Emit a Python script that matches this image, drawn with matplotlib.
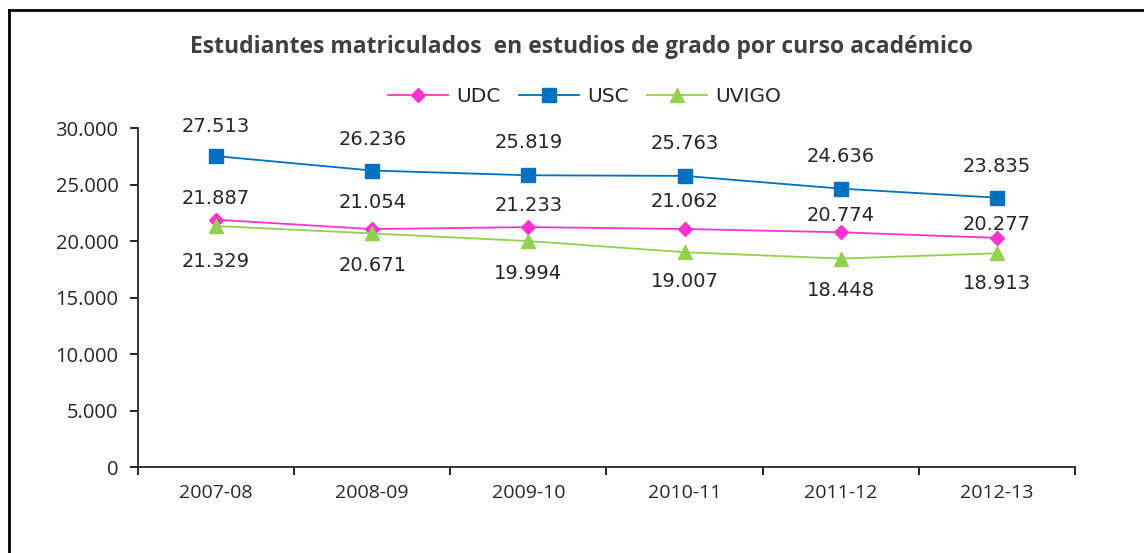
import matplotlib.pyplot as plt
from matplotlib.lines import Line2D

# Data
cursos = ['2007-08', '2008-09', '2009-10', '2010-11', '2011-12', '2012-13']
udc = [21887, 21054, 21233, 21062, 20774, 20277]
usc = [27513, 26236, 25819, 25763, 24636, 23835]
uvigo = [21329, 20671, 19994, 19007, 18448, 18913]

# label offsets in pixels (as placed in the original chart)
off_usc = [30, 31, 33, 32, 32, 31]
off_udc = [21, 27, 22, 28, 17, 13]
off_uvigo = [-36, -32, -32, -29, -32, -30]

def fmt(v):
    return f'{v:,}'.replace(',', '.')

fig = plt.figure(figsize=(11.44, 5.53), dpi=100)
ax = fig.add_axes([0.1206, 0.1555, 0.8191, 0.613])

x = range(len(cursos))
ax.plot(x, udc, color='#FF33CC', marker='D', markersize=7, lw=1.3, label='UDC')
ax.plot(x, usc, color='#0070C0', marker='s', markersize=10, lw=1.3, label='USC')
ax.plot(x, uvigo, color='#92D050', marker='^', markersize=10, lw=1.3, label='UVIGO')

# data labels
lab_font = dict(fontsize=14, family='DejaVu Sans', color='#262626', ha='center', va='center')
for i in x:
    ax.annotate(fmt(usc[i]), (i, usc[i]), xytext=(0, off_usc[i] * 0.72),
                textcoords='offset points', **lab_font)
    ax.annotate(fmt(udc[i]), (i, udc[i]), xytext=(0, off_udc[i] * 0.72),
                textcoords='offset points', **lab_font)
    ax.annotate(fmt(uvigo[i]), (i, uvigo[i]), xytext=(0, off_uvigo[i] * 0.72),
                textcoords='offset points', **lab_font)

ax.set_xlim(-0.5, len(cursos) - 0.5)
ax.set_ylim(0, 30000)
ax.set_yticks(range(0, 30001, 5000))
ax.set_yticklabels([fmt(v) for v in range(0, 30001, 5000)], fontsize=14.5,
                   family='Open Sans', color='#262626')
ax.set_xticks([i - 0.5 for i in range(len(cursos) + 1)])
ax.set_xticklabels([])
ax.set_xticks(list(x), minor=True)
ax.set_xticklabels(cursos, minor=True, fontsize=14, family='Open Sans', color='#262626')
ax.tick_params(axis='x', which='minor', length=0, pad=12)
ax.tick_params(axis='x', which='major', length=6, width=1.2, direction='out')
ax.tick_params(axis='y', length=6, width=1.2, pad=8)
for s in ['top', 'right']:
    ax.spines[s].set_visible(False)
for s in ['left', 'bottom']:
    ax.spines[s].set_linewidth(1.3)
    ax.spines[s].set_color('#262626')

fig.text(0.508, 0.915, 'Estudiantes matriculados  en estudios de grado por curso académico',
         ha='center', va='center', fontsize=16.5, fontweight='bold', family='Open Sans',
         color='#404040')
fig.legend(loc='center', bbox_to_anchor=(0.511, 0.8246), ncol=3, frameon=False,
           handlelength=3.0, columnspacing=0.9, handletextpad=0.4,
           prop={'family': 'DejaVu Sans', 'size': 14.5}, labelcolor='#262626')

# outer frame (top and left edges only)
fig.add_artist(Line2D([0.0079, 1.0], [1 - 10 / 553, 1 - 10 / 553], color='black', lw=2))
fig.add_artist(Line2D([0.0079, 0.0079], [0, 1 - 10 / 553], color='black', lw=2))

fig.savefig('out.png', dpi=100)
